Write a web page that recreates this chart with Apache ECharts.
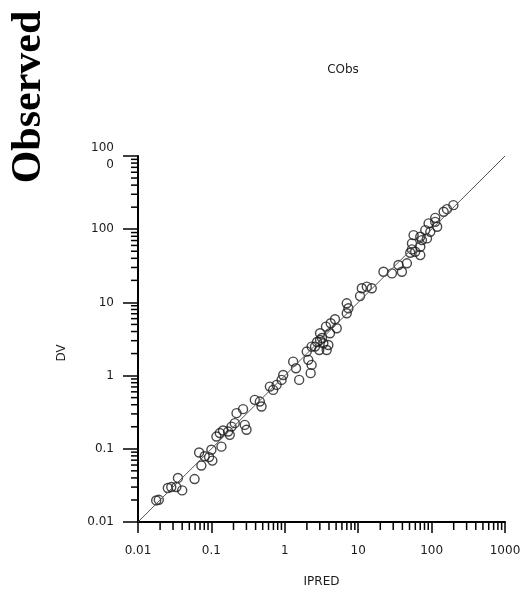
<!DOCTYPE html>
<html>
<head>
    <meta charset="utf-8">
    <title>CObs</title>
    <script src="https://cdn.jsdelivr.net/npm/echarts@6/dist/echarts.min.js"></script>
    <style>
        html, body { margin: 0; padding: 0; background: #fff; }
        #chart { width: 525px; height: 596px; }
    </style>
</head>
<body>
<div id="chart"></div>
<script>
    // observations: individual prediction vs observed concentration
    var ipred = [0.0177, 0.0192, 0.0255, 0.0284, 0.0333, 0.035, 0.040, 0.059, 0.073, 0.068,
        0.081, 0.093, 0.100, 0.103, 0.117, 0.130, 0.137, 0.144, 0.169, 0.178,
        0.188, 0.208, 0.220, 0.270, 0.285, 0.301, 0.390, 0.457, 0.482, 0.626,
        0.694, 0.773, 0.904, 0.951, 1.30, 1.42, 1.57, 1.99, 2.09, 2.32,
        2.25, 2.32, 2.58, 3.02, 2.95, 3.35, 3.92, 3.72, 3.02, 3.64,
        4.13, 4.22, 4.83, 5.10, 6.98, 6.98, 7.35, 10.6, 11.2, 13.1,
        15.3, 22.1, 28.8, 35.4, 39.4, 46.1, 51.2, 54.0, 59.8, 70.1,
        54.0, 70.1, 73.9, 56.8, 70.1, 82.0, 86.5, 91.0, 95.9, 112,
        119, 146, 162, 198, 112, 2.75, 3.21];
    var dv = [0.0197, 0.0201, 0.0291, 0.0300, 0.0300, 0.040, 0.027, 0.0386, 0.059, 0.089,
        0.079, 0.077, 0.097, 0.069, 0.147, 0.164, 0.107, 0.178, 0.172, 0.155,
        0.201, 0.224, 0.307, 0.348, 0.212, 0.182, 0.466, 0.442, 0.378, 0.708,
        0.638, 0.746, 0.873, 1.02, 1.55, 1.26, 0.873, 2.13, 1.64, 1.40,
        1.08, 2.49, 2.49, 3.07, 2.24, 2.77, 2.62, 2.24, 3.79, 4.66,
        3.79, 5.19, 5.88, 4.43, 7.10, 9.72, 8.31, 12.2, 15.6, 16.4,
        15.6, 26.2, 24.9, 32.4, 26.2, 34.2, 47.6, 53.0, 49.2, 44.3,
        64.0, 57.5, 71.0, 83.1, 78.8, 97.2, 74.9, 120, 92.1, 126,
        108, 173, 188, 213, 143, 2.88, 3.27];
    var identityLine = [[0.01, 0.01], [1000, 1000]];
    var tickLabels = ['0.01', '0.1', '1', '10', '100', '1000'];
    var yTickLabels = ['0.01', '0.1', '1', '10', '100', '100\n0'];
    var axisMin = 0.01, axisMax = 1000;

    // minor tick values 2..9 within each decade
    var minorTicks = [];
    for (var d = 0.01; d < axisMax; d *= 10) {
        for (var k = 2; k <= 9; k++) {
            minorTicks.push(+(d * k).toPrecision(3));
        }
    }

    var points = ipred.map(function (x, i) { return [x, dv[i]]; });

    function labelOf(list) {
        return function (v) {
            var idx = Math.round(Math.log10(v)) + 2;
            return list[idx] !== undefined ? list[idx] : '';
        };
    }

    var myChart = echarts.init(document.getElementById('chart'));
    var labelFont = { fontFamily: 'DejaVu Sans', fontSize: 12, color: '#1a1a1a' };

    var option = {
        animation: false,
        backgroundColor: '#fff',
        grid: { left: 138, right: 20, top: 156, bottom: 74 },
        graphic: [
            {
                type: 'text', x: 29, y: 97, rotation: Math.PI / 2,
                style: {
                    text: 'Observed', fontFamily: 'Liberation Serif', fontWeight: 'bold',
                    fontSize: 42, fill: '#000', align: 'center', verticalAlign: 'middle'
                }
            },
            {
                type: 'text', x: 343, y: 70,
                style: {
                    text: 'CObs', fontFamily: 'DejaVu Sans', fontSize: 12, fill: '#1a1a1a',
                    align: 'center', verticalAlign: 'middle'
                }
            },
            {
                type: 'text', x: 62, y: 353, rotation: Math.PI / 2,
                style: {
                    text: 'DV', fontFamily: 'DejaVu Sans', fontSize: 12, fill: '#1a1a1a',
                    align: 'center', verticalAlign: 'middle'
                }
            }
        ],
        xAxis: {
            type: 'log', logBase: 10, min: axisMin, max: axisMax,
            name: 'IPRED', nameLocation: 'middle', nameGap: 54,
            nameTextStyle: labelFont,
            axisLine: { lineStyle: { color: '#000', width: 2 } },
            axisTick: { length: 11, lineStyle: { color: '#000', width: 1.5 } },
            axisLabel: Object.assign({ margin: 23, formatter: labelOf(tickLabels) }, labelFont),
            splitLine: { show: false }
        },
        yAxis: {
            type: 'log', logBase: 10, min: axisMin, max: axisMax,
            axisLine: { lineStyle: { color: '#000', width: 2 } },
            axisTick: { length: 15, lineStyle: { color: '#000', width: 1.5 } },
            axisLabel: Object.assign({ margin: 24, lineHeight: 17, align: 'right',
                formatter: labelOf(yTickLabels) }, labelFont),
            splitLine: { show: false }
        },
        series: [
            {
                type: 'line',
                data: identityLine,
                symbol: 'none',
                silent: true,
                lineStyle: { color: '#555', width: 1 }
            },
            {
                type: 'scatter',
                data: points,
                symbol: 'circle',
                symbolSize: 9,
                itemStyle: { color: 'rgba(0,0,0,0)', borderColor: '#1a1a1a', borderWidth: 1.4 }
            },
            {
                // minor ticks on the x axis
                type: 'custom',
                silent: true,
                data: minorTicks.map(function (v) { return [v, axisMin]; }),
                renderItem: function (params, api) {
                    var p = api.coord([api.value(0), api.value(1)]);
                    return {
                        type: 'line',
                        shape: { x1: p[0], y1: p[1], x2: p[0], y2: p[1] + 8 },
                        style: { stroke: '#000', lineWidth: 1.5 }
                    };
                }
            },
            {
                // minor ticks on the y axis
                type: 'custom',
                silent: true,
                data: minorTicks.map(function (v) { return [axisMin, v]; }),
                renderItem: function (params, api) {
                    var p = api.coord([api.value(0), api.value(1)]);
                    return {
                        type: 'line',
                        shape: { x1: p[0], y1: p[1], x2: p[0] - 7, y2: p[1] },
                        style: { stroke: '#000', lineWidth: 1.5 }
                    };
                }
            }
        ]
    };
    myChart.setOption(option);
</script>
</body>
</html>
